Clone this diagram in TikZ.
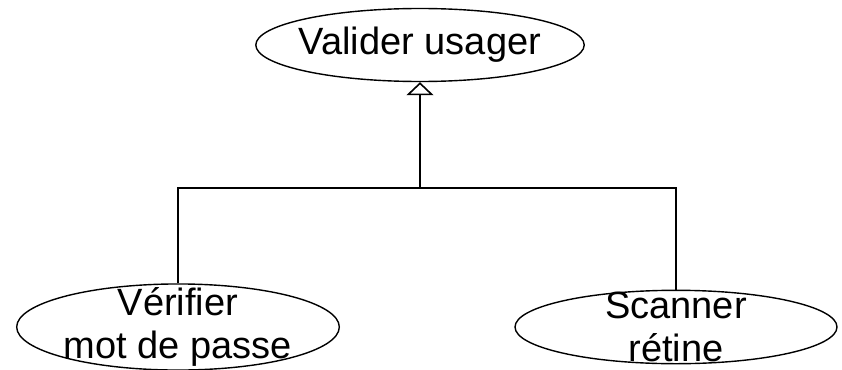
\documentclass[tikz,border=0pt]{standalone}
\usepackage{fontspec}
\setmainfont{Liberation Sans}
\usetikzlibrary{shapes.geometric,arrows.meta}
\begin{document}
\begin{tikzpicture}[x=1pt, y=-1pt,
    usecase/.style={ellipse, draw, line width=1.4pt, inner sep=0pt, align=center,
      font=\fontsize{38}{43}\selectfont},
    generalise/.style={-{Triangle[open, length=13pt, width=27pt]}, line width=1.6pt}]
    \useasboundingbox (0,0) rectangle (842,369);
    \node[usecase, minimum height=73pt, inner xsep=-5pt] (valider) at (420,45) {Valider usager};
    \node[usecase, inner ysep=-9pt] (verifier) at (178,327) {Vérifier\\mot de passe};
    \node[usecase, inner ysep=-9pt, minimum width=322pt] (scanner) at (676,327) {Scanner\\rétine};
    \coordinate (bar) at (420,188);
    \draw[line width=1.6pt] (verifier.north) |- (bar) -| (scanner.north);
    \draw[generalise] (bar) -- (valider.south);
\end{tikzpicture}
\end{document}
